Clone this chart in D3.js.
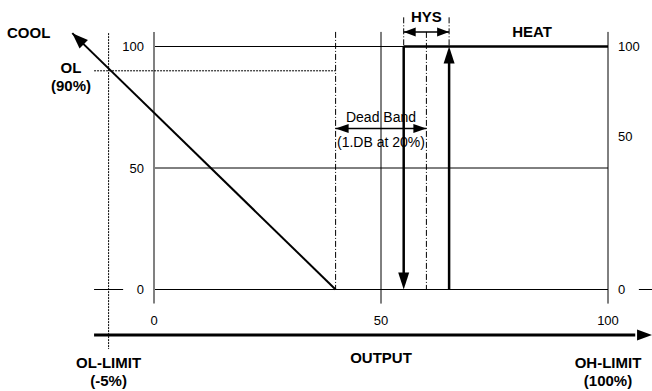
<!DOCTYPE html>
<html><head><meta charset="utf-8">
<script src="https://cdn.jsdelivr.net/npm/d3@7"></script>
<style>
body{margin:0;background:#fff}
svg{display:block}
text{font-family:"Liberation Sans",Arial,sans-serif;fill:#000}
.b{font-weight:bold;font-size:15px}
.t{font-size:13px}
.m{font-size:14px}
</style>
</head><body>
<svg id="c" width="652" height="391"></svg>
<script>
// Output axis (%) and control value (%) ticks
const outputTicks = [0, 50, 100];
const coolTicks = [0, 50, 100];
const heatTickLabels = ["0", "50", "100"];
const heatTickValues = [0, 63, 100];

// Cooling output line: from end of dead band up past 100 %
const coolLine = [[40, 0], [-18, 105.5]];
// Heating relay with hysteresis
const heatOn = [[55, 100], [100, 100]];
const heatDown = [[55, 100], [55, 0]];
const heatUp = [[65, 0], [65, 100]];
const deadBand = [40, 60];
const hysteresis = [55, 65];
const olLimitPos = -10;   // OL-LIMIT marker on the output axis
const olLevel = 90;       // OL limit level

const svg = d3.select("#c");
const x = d3.scaleLinear().domain([0, 100]).range([154, 608]);
const y = d3.scaleLinear().domain([0, 100]).range([289.5, 46.5]);

function seg(x1, y1, x2, y2, stroke, w, dash) {
  const l = svg.append("line")
    .attr("x1", x(x1)).attr("y1", y(y1)).attr("x2", x(x2)).attr("y2", y(y2))
    .attr("stroke", stroke).attr("stroke-width", w);
  if (dash) l.attr("stroke-dasharray", dash);
  return l;
}
function head(tip, from, len, hw) {
  const tx = x(tip[0]), ty = y(tip[1]), fx = x(from[0]), fy = y(from[1]);
  const d = Math.hypot(tx - fx, ty - fy), ux = (tx - fx) / d, uy = (ty - fy) / d;
  const bx = tx - ux * len, by = ty - uy * len;
  svg.append("path")
    .attr("d", `M${tx},${ty}L${bx - uy * hw},${by + ux * hw}L${bx + uy * hw},${by - ux * hw}Z`)
    .attr("fill", "#000");
}
const topV = 106, botV = -5.8, axisV = -18.7;
const dashDot = "6,2,1,2";

// grid lines
coolTicks.forEach(v => seg(0, v, 100, v, "#000", 1));
seg(-13.2, 0, -6.8, 0, "#000", 1);
seg(106.8, 0, 110, 0, "#000", 1);
seg(50, topV, 50, botV, "#000", 1);
// side axes
seg(0, topV, 0, botV, "#808080", 2);
seg(100, topV, 100, botV, "#000", 1);

// OL markers
seg(olLimitPos, 105.5, olLimitPos, -24.5, "#000", 1, "2,1");
seg(-13.2, olLevel, deadBand[0], olLevel, "#000", 1, "2,1");

// dead band & hysteresis limits
deadBand.forEach(v => seg(v, topV, v, 0, "#000", 1, dashDot));
hysteresis.forEach(v => seg(v, 112, v, 100, "#000", 1, dashDot));

// dead band arrow
const dbV = 66.3;
seg(deadBand[0], dbV, deadBand[1], dbV, "#000", 1.5);
head([deadBand[0], dbV], [deadBand[1], dbV], 13, 4.5);
head([deadBand[1], dbV], [deadBand[0], dbV], 13, 4.5);
// hysteresis arrow
seg(hysteresis[0], topV, hysteresis[1], topV, "#000", 1.5);
head([hysteresis[0], topV], [hysteresis[1], topV], 12, 4.5);
head([hysteresis[1], topV], [hysteresis[0], topV], 12, 4.5);

// cooling line
seg(coolLine[0][0], coolLine[0][1], coolLine[1][0], coolLine[1][1], "#000", 2);
head(coolLine[1], coolLine[0], 16, 6);

// heating relay
seg(heatOn[0][0], heatOn[0][1], heatOn[1][0], heatOn[1][1], "#000", 2.5);
seg(heatDown[0][0], heatDown[0][1], heatDown[1][0], heatDown[1][1] + 5, "#000", 2.5);
head(heatDown[1], heatDown[0], 17, 5.5);
seg(heatUp[0][0], heatUp[0][1], heatUp[1][0], heatUp[1][1] - 5, "#000", 2.5);
head(heatUp[1], heatUp[0], 17, 5.5);

// output axis
seg(-13.2, axisV, 106, axisV, "#000", 3);
head([109.7, axisV], [0, axisV], 15, 5.5);

// tick labels
const txt = (s, px, py, cls, anchor) => svg.append("text").attr("x", px).attr("y", py)
  .attr("class", cls).attr("text-anchor", anchor).text(s);
coolTicks.forEach(v => txt(v, x(0) - 10, y(v) + 4.6, "t", "end"));
heatTickValues.forEach((v, i) => txt(heatTickLabels[i], x(100) + 10, y(v) + 4.6, "t", "start"));
outputTicks.forEach(v => txt(v, x(v), 325, "t", "middle"));

// labels
txt("COOL", 7, 37.5, "b", "start");
txt("OL", 71, 73, "b", "middle");
txt("(90%)", 71, 91, "b", "middle");
txt("HEAT", 532, 37, "b", "middle");
txt("HYS", x((hysteresis[0] + hysteresis[1]) / 2), 22, "b", "middle");
txt("Dead Band", x(50), 121.5, "m", "middle");
txt("(1.DB at 20%)", x(50), 146.5, "m", "middle");
txt("OL-LIMIT", x(olLimitPos), 368, "b", "middle");
txt("(-5%)", x(olLimitPos), 386, "b", "middle");
txt("OUTPUT", x(50), 363, "b", "middle");
txt("OH-LIMIT", x(100), 368, "b", "middle");
txt("(100%)", x(100), 386, "b", "middle");
</script>
</body></html>
